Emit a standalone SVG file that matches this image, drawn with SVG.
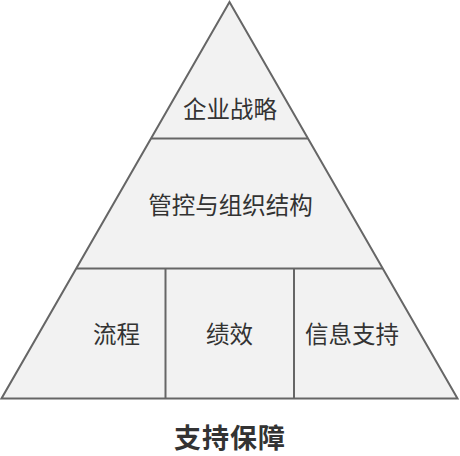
<svg xmlns="http://www.w3.org/2000/svg" width="460" height="456" viewBox="0 0 460 456">
<style>
.shape{fill:#f2f2f2;stroke:#666;stroke-width:2;stroke-linejoin:miter}
.ln{stroke:#666;stroke-width:2;fill:none}
.lbl{font-family:"Noto Sans CJK SC","Noto Sans",sans-serif;font-size:23.5px;fill:#333;text-anchor:middle;dominant-baseline:central}
.ttl{font-family:"Noto Sans CJK SC","Noto Sans",sans-serif;font-size:27px;font-weight:bold;fill:#333;text-anchor:middle;letter-spacing:1px}
</style>
<g id="pyramid">
<polygon class="shape" points="229.5,2 457.5,398.5 1.5,398.5"/>
</g>
<g id="connectors">
<line class="ln" x1="151.2" y1="138.5" x2="307.8" y2="138.5"/>
<line class="ln" x1="76.3" y1="268.5" x2="382.7" y2="268.5"/>
<line class="ln" x1="165.5" y1="268.5" x2="165.5" y2="398.5"/>
<line class="ln" x1="294" y1="268.5" x2="294" y2="398.5"/>
</g>
<g id="strategy"><text class="lbl" x="230" y="108">企业战略</text></g>
<g id="structure"><text class="lbl" x="230.5" y="204">管控与组织结构</text></g>
<g id="process"><text class="lbl" x="116.5" y="333">流程</text></g>
<g id="performance"><text class="lbl" x="229.5" y="333">绩效</text></g>
<g id="info"><text class="lbl" x="352" y="333">信息支持</text></g>
<g id="title"><text class="ttl" x="230" y="448">支持保障</text></g>
</svg>
